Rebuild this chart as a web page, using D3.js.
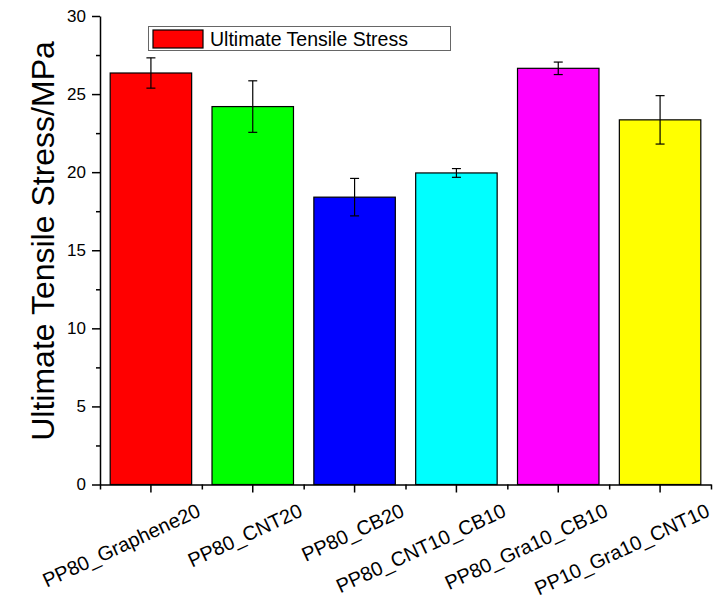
<!DOCTYPE html>
<html>
<head>
<meta charset="utf-8">
<script src="https://cdn.jsdelivr.net/npm/d3@7"></script>
<style>
  html, body { margin: 0; padding: 0; background: #fff; }
  svg { display: block; font-family: "Liberation Sans", Arial, sans-serif; }
</style>
</head>
<body>
<svg id="chart" width="717" height="604"></svg>
<script>
// Sample groups and their measured ultimate tensile stress (MPa)
const categories = ["PP80_Graphene20", "PP80_CNT20", "PP80_CB20", "PP80_CNT10_CB10", "PP80_Gra10_CB10", "PP10_Gra10_CNT10"];
const stress = [26.35, 24.2, 18.4, 19.95, 26.65, 23.35];
const stressErr = [0.97, 1.65, 1.2, 0.28, 0.4, 1.55];
const barColors = ["#ff0000", "#00ff00", "#0000ff", "#00ffff", "#ff00ff", "#ffff00"];
const yMajorTicks = [0, 5, 10, 15, 20, 25, 30];
const yMinorTicks = [2.5, 7.5, 12.5, 17.5, 22.5, 27.5];
const seriesName = "Ultimate Tensile Stress";
const yTitle = "Ultimate Tensile Stress/MPa";

const svg = d3.select("#chart");
const plot = { left: 100, right: 711, top: 16, bottom: 484.5 };

const x = d3.scaleBand()
  .domain(categories)
  .range([plot.left, plot.right])
  .paddingInner(0.2)
  .paddingOuter(0.1);

const y = d3.scaleLinear().domain([0, 30]).range([plot.bottom, plot.top]);

// Bars
svg.append("g").selectAll("rect")
  .data(categories)
  .join("rect")
  .attr("x", d => x(d))
  .attr("y", (d, i) => y(stress[i]))
  .attr("width", x.bandwidth())
  .attr("height", (d, i) => y(0) - y(stress[i]))
  .attr("fill", (d, i) => barColors[i])
  .attr("stroke", "#000")
  .attr("stroke-width", 1.2);

// Error bars
const capHalf = 4.5;
const eb = svg.append("g").attr("stroke", "#000").attr("stroke-width", 1.2).attr("fill", "none");
categories.forEach((c, i) => {
  const cx = x(c) + x.bandwidth() / 2;
  const hi = y(stress[i] + stressErr[i]);
  const lo = y(stress[i] - stressErr[i]);
  eb.append("line").attr("x1", cx).attr("x2", cx).attr("y1", hi).attr("y2", lo);
  eb.append("line").attr("x1", cx - capHalf).attr("x2", cx + capHalf).attr("y1", hi).attr("y2", hi);
  eb.append("line").attr("x1", cx - capHalf).attr("x2", cx + capHalf).attr("y1", lo).attr("y2", lo);
});

// Y axis: major and minor ticks pointing outward
const yAxis = svg.append("g")
  .attr("transform", `translate(${plot.left},0)`)
  .call(d3.axisLeft(y).tickValues(yMajorTicks).tickSize(8).tickSizeOuter(0).tickPadding(6));
svg.append("g")
  .attr("transform", `translate(${plot.left},0)`)
  .call(d3.axisLeft(y).tickValues(yMinorTicks).tickSize(4).tickSizeOuter(0).tickFormat(""))
  .select(".domain").remove();
yAxis.selectAll("text").attr("font-size", 17).attr("fill", "#000").attr("font-family", "Liberation Sans, Arial, sans-serif");

// X axis: major ticks at category centers, minor ticks on group boundaries
const xAxis = svg.append("g")
  .attr("transform", `translate(0,${plot.bottom})`)
  .call(d3.axisBottom(x).tickSize(8).tickSizeOuter(0));
const xBounds = d3.scaleLinear().domain([0, categories.length]).range([plot.left, plot.right]);
svg.append("g")
  .attr("transform", `translate(0,${plot.bottom})`)
  .call(d3.axisBottom(xBounds).tickValues(d3.range(categories.length + 1)).tickSize(5).tickSizeOuter(0).tickFormat(""))
  .select(".domain").remove();

xAxis.selectAll("text")
  .attr("font-size", 20)
  .attr("fill", "#000")
  .attr("font-family", "Liberation Sans, Arial, sans-serif")
  .attr("text-anchor", "end")
  .attr("dy", 0)
  .attr("y", 0)
  .attr("transform", "translate(51,31) rotate(-25)");

svg.selectAll(".domain, .tick line").attr("stroke", "#000").attr("stroke-width", 1.5);

// Y axis title
svg.append("text")
  .attr("transform", "translate(54,241) rotate(-90)")
  .attr("text-anchor", "middle")
  .attr("font-size", 32)
  .attr("fill", "#000")
  .text(yTitle);

// Legend
const legend = svg.append("g");
legend.append("rect")
  .attr("x", 148.5).attr("y", 26.5).attr("width", 302).attr("height", 24)
  .attr("fill", "#fff").attr("stroke", "#666").attr("stroke-width", 1);
legend.append("rect")
  .attr("x", 153).attr("y", 30).attr("width", 50).attr("height", 18)
  .attr("fill", barColors[0]).attr("stroke", "#000").attr("stroke-width", 1.2);
legend.append("text")
  .attr("x", 210).attr("y", 45.7)
  .attr("font-size", 19.5)
  .attr("fill", "#000")
  .text(seriesName);
</script>
</body>
</html>
